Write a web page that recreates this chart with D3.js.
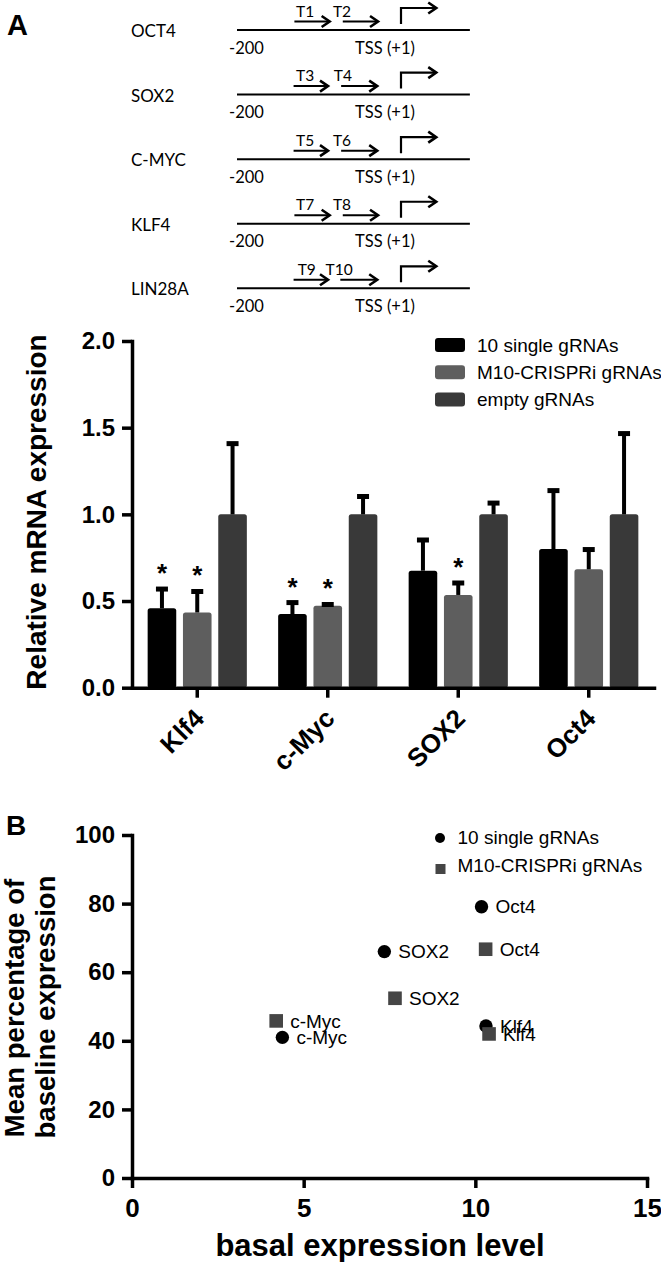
<!DOCTYPE html>
<html><head><meta charset="utf-8">
<script src="https://cdn.jsdelivr.net/npm/d3@7"></script>
<style>
html,body{margin:0;padding:0;background:#fff;}
svg{display:block;}
</style></head>
<body>
<svg id="chart" width="661" height="1262"></svg>
<script>
// ---------- Panel A : promoter diagram ----------
const genes = ["OCT4", "SOX2", "C-MYC", "KLF4", "LIN28A"];
const guideNames = [["T1","T2"],["T3","T4"],["T5","T6"],["T7","T8"],["T9","T10"]];
const guideStartBp = [[-130,-71],[-131,-73],[-131,-73],[-130,-71],[-131,-74]];
const guideEndBp   = [[-87,-28],[-89,-29],[-89,-29],[-87,-28],[-89,-29]];
const guideLabelBp = [[-128,-83],[-128,-82],[-128,-83],[-128,-83],[-126,-92]];
const promoterStartBp = -200, tssBp = 0, promoterEndBp = 84, tssArrowEndBp = 43;
const startLabel = "-200", tssLabel = "TSS (+1)";

// ---------- Panel A : bar chart ----------
const categories = ["Klf4", "c-Myc", "SOX2", "Oct4"];
const seriesNames = ["10 single gRNAs", "M10-CRISPRi gRNAs", "empty gRNAs"];
const singleMean = [0.458, 0.425, 0.675, 0.800];
const singleErr  = [0.569, 0.491, 0.852, 1.137];
const m10Mean    = [0.434, 0.473, 0.535, 0.683];
const m10Err     = [0.555, 0.480, 0.604, 0.797];
const emptyMean  = [1.0, 1.0, 1.0, 1.0];
const emptyErr   = [1.408, 1.103, 1.065, 1.466];
const singleSig  = [true, true, false, false];
const m10Sig     = [true, true, true, false];
const emptySig   = [false, false, false, false];
const yTicksA = [0, 0.5, 1.0, 1.5, 2.0];

// ---------- Panel B : scatter ----------
const scatterGenes = ["Oct4", "SOX2", "c-Myc", "Klf4"];
const singleBasal = [10.18, 7.35, 4.38, 10.31];
const singlePct   = [79.1, 66.0, 41.0, 44.3];
const m10Basal    = [10.3, 7.66, 4.2, 10.4];
const m10Pct      = [66.7, 52.4, 45.8, 42.0];
const scatterSeries = ["10 single gRNAs", "M10-CRISPRi gRNAs"];
const xTicksB = [0, 5, 10, 15];
const yTicksB = [0, 20, 40, 60, 80, 100];

const svg = d3.select("#chart");
const ARIAL = "'Liberation Sans', Arial, Helvetica, sans-serif";
const CAL = "Lato, 'Open Sans', sans-serif";
const barColors = ["#000000", "#5e5e5e", "#393939"];

// ===== Panel letters =====
svg.append("text").attr("x", 7).attr("y", 35).text("A")
  .attr("font-family", ARIAL).attr("font-weight", "bold").attr("font-size", 29);
svg.append("text").attr("x", 6).attr("y", 835).text("B")
  .attr("font-family", ARIAL).attr("font-weight", "bold").attr("font-size", 28);

// ===== Diagram =====
const bp = d3.scaleLinear().domain([promoterStartBp, tssBp]).range([237, 401]);
const rowY = d3.scaleLinear().domain([0, 4]).range([30, 288.3]);
const dg = svg.append("g");
function chevron(g, x, y) {
  g.append("path").attr("d", `M${x-8},${y-5.5}L${x},${y}L${x-8},${y+5.5}`)
    .attr("fill", "none").attr("stroke", "#000").attr("stroke-width", 2.6)
    .attr("stroke-linejoin", "miter");
}
genes.forEach((gname, i) => {
  const y = rowY(i);
  const g = dg.append("g");
  g.append("text").attr("x", 131).attr("y", y + 7).text(gname)
    .attr("font-family", CAL).attr("font-size", 17);
  g.append("line").attr("x1", bp(promoterStartBp)).attr("x2", bp(promoterEndBp))
    .attr("y1", y).attr("y2", y).attr("stroke", "#000").attr("stroke-width", 2);
  g.append("text").attr("x", 229).attr("y", y + 23.5).text(startLabel)
    .attr("font-family", CAL).attr("font-size", 16.5);
  g.append("text").attr("x", 385).attr("y", y + 23.5).text(tssLabel)
    .attr("text-anchor", "middle").attr("font-family", CAL).attr("font-size", 16.5);
  guideNames[i].forEach((t, j) => {
    const x1 = bp(guideStartBp[i][j]), x2 = bp(guideEndBp[i][j]);
    g.append("line").attr("x1", x1).attr("x2", x2 - 1).attr("y1", y - 8.5).attr("y2", y - 8.5)
      .attr("stroke", "#000").attr("stroke-width", 2);
    chevron(g, x2, y - 8.5);
    g.append("text").attr("x", bp(guideLabelBp[i][j])).attr("y", y - 13.5).text(t)
      .attr("font-family", CAL).attr("font-size", 15.5);
  });
  const xt = bp(tssBp), xe = bp(tssArrowEndBp);
  g.append("path").attr("d", `M${xt},${y-6}V${y-22}H${xe-1}`)
    .attr("fill", "none").attr("stroke", "#000").attr("stroke-width", 2.2);
  chevron(g, xe, y - 22);
});

// ===== Bar chart =====
const yA = d3.scaleLinear().domain([0, 2]).range([687.7, 341]);
const x0 = d3.scaleBand().domain(categories).range([132, 654]);
const x1 = d3.scaleBand().domain(seriesNames).range([-49.6, 49.6]).paddingInner(0.19);
const means = [singleMean, m10Mean, emptyMean];
const errs = [singleErr, m10Err, emptyErr];
const sigs = [singleSig, m10Sig, emptySig];

const barData = [];
categories.forEach((c, ci) => seriesNames.forEach((s, si) => {
  barData.push({c, s, si, v: means[si][ci], e: errs[si][ci], sig: sigs[si][ci]});
}));
const bg = svg.append("g");
const cx = d => x0(d.c) + x0.bandwidth() / 2 + x1(d.s);
bg.selectAll("rect.bar").data(barData).join("rect").attr("class", "bar")
  .attr("x", d => cx(d)).attr("width", x1.bandwidth())
  .attr("y", d => yA(d.v)).attr("height", d => yA(0) - yA(d.v))
  .attr("rx", 2.5).attr("fill", d => barColors[d.si]);
bg.selectAll("line.err").data(barData).join("line").attr("class", "err")
  .attr("x1", d => cx(d) + x1.bandwidth() / 2).attr("x2", d => cx(d) + x1.bandwidth() / 2)
  .attr("y1", d => yA(d.v)).attr("y2", d => yA(d.e))
  .attr("stroke", "#000").attr("stroke-width", 4);
bg.selectAll("line.cap").data(barData).join("line").attr("class", "cap")
  .attr("x1", d => cx(d) + x1.bandwidth() / 2 - 6).attr("x2", d => cx(d) + x1.bandwidth() / 2 + 6)
  .attr("y1", d => yA(d.e)).attr("y2", d => yA(d.e))
  .attr("stroke", "#000").attr("stroke-width", 5);
bg.selectAll("text.star").data(barData.filter(d => d.sig)).join("text").attr("class", "star")
  .attr("x", d => cx(d) + x1.bandwidth() / 2).attr("y", d => yA(d.e) - 22 + 15)
  .attr("text-anchor", "middle").text("*")
  .attr("font-family", ARIAL).attr("font-weight", "bold").attr("font-size", 26);

function styleAxis(g) {
  g.select(".domain").attr("stroke-width", 3.5).attr("stroke-linecap", "square");
  g.selectAll(".tick line").attr("stroke-width", 3.5);
  g.selectAll(".tick text").attr("font-family", ARIAL).attr("font-weight", "bold")
    .attr("font-size", 24).attr("fill", "#000");
}
const yAxisA = svg.append("g").attr("transform", "translate(132,0)")
  .call(d3.axisLeft(yA).tickValues(yTicksA).tickFormat(d3.format(".1f")).tickSize(10).tickSizeOuter(0).tickPadding(7));
styleAxis(yAxisA);
const xAxisA = svg.append("g").attr("transform", `translate(0,${yA(0)})`)
  .call(d3.axisBottom(x0).tickSize(10).tickSizeOuter(0));
styleAxis(xAxisA);
xAxisA.selectAll(".tick text").attr("text-anchor", "end").attr("font-size", 26)
  .attr("transform", "translate(2,26) rotate(-45)").attr("y", 0).attr("dy", "0.35em").attr("x", 0);

svg.append("text").attr("transform", "translate(46,512) rotate(-90)")
  .attr("text-anchor", "middle").text("Relative mRNA expression")
  .attr("font-family", ARIAL).attr("font-weight", "bold").attr("font-size", 28);

const legA = svg.append("g");
seriesNames.forEach((s, i) => {
  const yc = 345 + i * 27.3;
  legA.append("rect").attr("x", 435).attr("y", yc - 7).attr("width", 30).attr("height", 14)
    .attr("rx", 3).attr("fill", barColors[i]);
  legA.append("text").attr("x", 477).attr("y", yc).attr("dy", "0.35em").text(s)
    .attr("font-family", ARIAL).attr("font-size", 19);
});

// ===== Scatter =====
const xB = d3.scaleLinear().domain([0, 15]).range([132, 647]);
const yB = d3.scaleLinear().domain([0, 100]).range([1178, 835]);
const yAxisB = svg.append("g").attr("transform", "translate(132,0)")
  .call(d3.axisLeft(yB).tickValues(yTicksB).tickSize(10).tickSizeOuter(0).tickPadding(7));
styleAxis(yAxisB);
const xAxisB = svg.append("g").attr("transform", `translate(0,${yB(0)})`)
  .call(d3.axisBottom(xB).tickValues(xTicksB).tickSize(10).tickSizeOuter(0).tickPadding(11));
styleAxis(xAxisB);
xAxisB.selectAll(".tick text").attr("font-size", 26);

const sg = svg.append("g");
scatterGenes.forEach((gn, i) => {
  sg.append("circle").attr("cx", xB(singleBasal[i])).attr("cy", yB(singlePct[i])).attr("r", 6.7).attr("fill", "#000");
  sg.append("text").attr("x", xB(singleBasal[i]) + 14).attr("y", yB(singlePct[i])).attr("dy", "0.35em")
    .text(gn).attr("font-family", ARIAL).attr("font-size", 19);
});
scatterGenes.forEach((gn, i) => {
  sg.append("rect").attr("x", xB(m10Basal[i]) - 6.8).attr("y", yB(m10Pct[i]) - 6.8)
    .attr("width", 13.6).attr("height", 13.6).attr("fill", "#454545");
  sg.append("text").attr("x", xB(m10Basal[i]) + 14).attr("y", yB(m10Pct[i])).attr("dy", "0.35em")
    .text(gn).attr("font-family", ARIAL).attr("font-size", 19);
});
// legend
const legB = svg.append("g");
legB.append("circle").attr("cx", 440).attr("cy", 838).attr("r", 5).attr("fill", "#000");
legB.append("rect").attr("x", 435.5).attr("y", 864).attr("width", 10).attr("height", 10).attr("fill", "#454545");
scatterSeries.forEach((s, i) => {
  legB.append("text").attr("x", 457.5).attr("y", 837 + i * 28.5).attr("dy", "0.35em").text(s)
    .attr("font-family", ARIAL).attr("font-size", 19);
});

svg.append("text").attr("x", 380).attr("y", 1256).attr("text-anchor", "middle")
  .text("basal expression level").attr("font-family", ARIAL).attr("font-weight", "bold").attr("font-size", 31);
svg.append("text").attr("transform", "translate(24,1008) rotate(-90)").attr("text-anchor", "middle")
  .text("Mean percentage of").attr("font-family", ARIAL).attr("font-weight", "bold").attr("font-size", 27.5);
svg.append("text").attr("transform", "translate(55,1007) rotate(-90)").attr("text-anchor", "middle")
  .text("baseline expression").attr("font-family", ARIAL).attr("font-weight", "bold").attr("font-size", 27.5);
</script>
</body></html>
